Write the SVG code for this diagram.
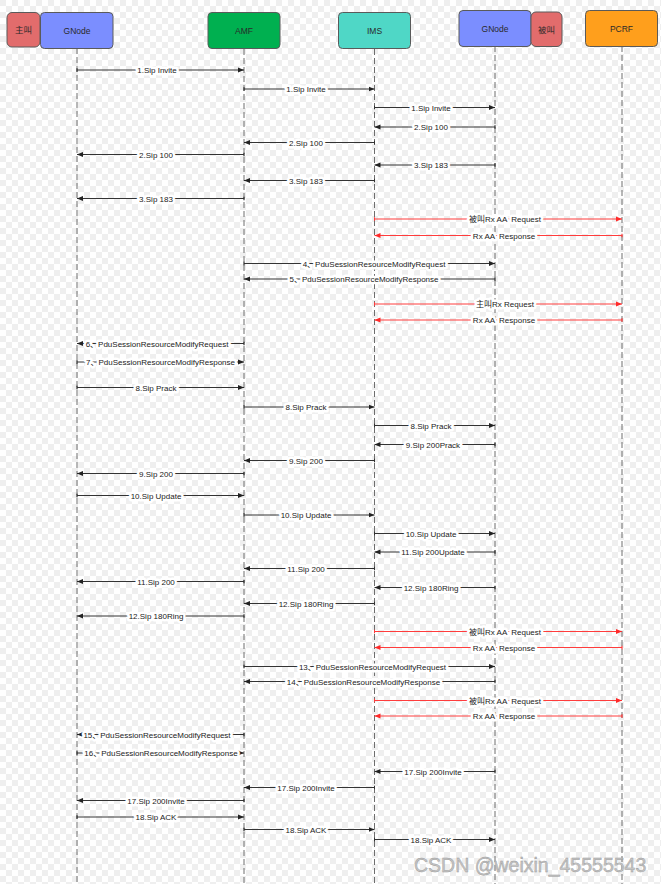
<svg xmlns="http://www.w3.org/2000/svg" width="661" height="884" viewBox="0 0 661 884">
<style>
.box{stroke:#5a5a5a;stroke-width:1}
.bt{font-family:"Liberation Sans","Noto Sans CJK SC",sans-serif;font-size:8.5px;fill:#2a2a2a;text-anchor:middle}
.life{stroke:#6e6e6e;stroke-width:1;stroke-dasharray:6 3;fill:none}
.m{stroke:#333;stroke-width:1;fill:none;marker-end:url(#ah);marker-start:url(#tk)}
.r{stroke:#ff3c3c;stroke-width:1;fill:none;marker-end:url(#ahr);marker-start:url(#tkr)}
.l{font-family:"Liberation Sans","Noto Sans CJK SC",sans-serif;font-size:8px;fill:#222;text-anchor:middle;paint-order:stroke;stroke:#fff;stroke-width:5px;stroke-linejoin:round}
.wm{font-family:"Liberation Sans",sans-serif;font-size:19.5px;fill:#c4c4c4;stroke:#9a9a9a;stroke-width:0.4px}
</style>
<defs>
<pattern id="chk" width="12" height="12" patternUnits="userSpaceOnUse">
<rect width="12" height="12" fill="#ffffff"/>
<rect width="6" height="6" fill="#efefef"/>
<rect x="6" y="6" width="6" height="6" fill="#efefef"/>
</pattern>
<marker id="ah" viewBox="0 0 10 10" refX="10" refY="5" markerWidth="6" markerHeight="6" markerUnits="userSpaceOnUse" orient="auto"><path d="M0,1 L10,5 L0,9 z" fill="#222"/></marker>
<marker id="ahr" viewBox="0 0 10 10" refX="10" refY="5" markerWidth="6" markerHeight="6" markerUnits="userSpaceOnUse" orient="auto"><path d="M0,1 L10,5 L0,9 z" fill="#ff2a2a"/></marker>
<marker id="tk" viewBox="0 0 2 6" refX="1" refY="3" markerWidth="1.2" markerHeight="6" markerUnits="userSpaceOnUse" orient="auto"><rect width="2" height="6" fill="#333"/></marker>
<marker id="tkr" viewBox="0 0 2 6" refX="1" refY="3" markerWidth="1.2" markerHeight="6" markerUnits="userSpaceOnUse" orient="auto"><rect width="2" height="6" fill="#ff3c3c"/></marker>
</defs>
<rect width="661" height="884" fill="url(#chk)"/>

<g id="caller">
<rect class="box" x="7" y="12.5" width="33" height="34.5" rx="5" fill="#e26c6c"/>
<text class="bt" x="23.5" y="33">主叫</text>
</g>
<g id="gnode1">
<line class="life" x1="77" y1="48" x2="77" y2="884"/>
<rect class="box" x="40.5" y="12.5" width="72.5" height="36" rx="4" fill="#7b8eff"/>
<text class="bt" x="77" y="33.5">GNode</text>
</g>
<g id="amf">
<line class="life" x1="244" y1="49" x2="244" y2="884"/>
<rect class="box" x="208" y="12.5" width="72" height="36" rx="4" fill="#00b050"/>
<text class="bt" x="244" y="33.5">AMF</text>
</g>
<g id="ims">
<line class="life" x1="374.5" y1="49" x2="374.5" y2="884"/>
<rect class="box" x="338.5" y="12.5" width="72" height="36" rx="4" fill="#4fd7c6"/>
<text class="bt" x="374.5" y="33.5">IMS</text>
</g>
<g id="gnode2">
<line class="life" x1="495" y1="46" x2="495" y2="884"/>
<rect class="box" x="459" y="10.5" width="72" height="36" rx="4" fill="#7b8eff"/>
<text class="bt" x="495" y="31.5">GNode</text>
</g>
<g id="callee">
<rect class="box" x="531" y="12" width="31" height="34.5" rx="5" fill="#e26c6c"/>
<text class="bt" x="546.5" y="32.5">被叫</text>
</g>
<g id="pcrf">
<line class="life" x1="622" y1="46" x2="622" y2="884"/>
<rect class="box" x="585.5" y="10.5" width="72" height="36" rx="4" fill="#ff9f1c"/>
<text class="bt" x="621.5" y="31.5">PCRF</text>
</g>

<g id="connectors">
<line class="m" x1="77" y1="70" x2="244" y2="70"/>
<line class="m" x1="244" y1="89" x2="374.5" y2="89"/>
<line class="m" x1="374.5" y1="107.5" x2="495" y2="107.5"/>
<line class="m" x1="495" y1="127" x2="374.5" y2="127"/>
<line class="m" x1="374.5" y1="142.5" x2="244" y2="142.5"/>
<line class="m" x1="244" y1="154.5" x2="77" y2="154.5"/>
<line class="m" x1="495" y1="165" x2="374.5" y2="165"/>
<line class="m" x1="374.5" y1="180.5" x2="244" y2="180.5"/>
<line class="m" x1="244" y1="198.5" x2="77" y2="198.5"/>
<line class="r" x1="374.5" y1="219" x2="622" y2="219"/>
<line class="r" x1="622" y1="235.5" x2="374.5" y2="235.5"/>
<line class="m" x1="244" y1="263.5" x2="495" y2="263.5"/>
<line class="m" x1="495" y1="279" x2="244" y2="279"/>
<line class="r" x1="374.5" y1="304" x2="622" y2="304"/>
<line class="r" x1="622" y1="320" x2="374.5" y2="320"/>
<line class="m" x1="244" y1="343.5" x2="77" y2="343.5"/>
<line class="m" x1="77" y1="362" x2="244" y2="362"/>
<line class="m" x1="77" y1="387.5" x2="244" y2="387.5"/>
<line class="m" x1="244" y1="407" x2="374.5" y2="407"/>
<line class="m" x1="374.5" y1="425.5" x2="495" y2="425.5"/>
<line class="m" x1="495" y1="444.5" x2="374.5" y2="444.5"/>
<line class="m" x1="374.5" y1="460.5" x2="244" y2="460.5"/>
<line class="m" x1="244" y1="473.5" x2="77" y2="473.5"/>
<line class="m" x1="77" y1="495.5" x2="244" y2="495.5"/>
<line class="m" x1="244" y1="515" x2="374.5" y2="515"/>
<line class="m" x1="374.5" y1="533.5" x2="495" y2="533.5"/>
<line class="m" x1="495" y1="552" x2="374.5" y2="552"/>
<line class="m" x1="374.5" y1="568.5" x2="244" y2="568.5"/>
<line class="m" x1="244" y1="581.5" x2="77" y2="581.5"/>
<line class="m" x1="495" y1="587.5" x2="374.5" y2="587.5"/>
<line class="m" x1="374.5" y1="603.5" x2="244" y2="603.5"/>
<line class="m" x1="244" y1="616" x2="77" y2="616"/>
<line class="r" x1="374.5" y1="631.5" x2="622" y2="631.5"/>
<line class="r" x1="622" y1="647.5" x2="374.5" y2="647.5"/>
<line class="m" x1="244" y1="666.5" x2="495" y2="666.5"/>
<line class="m" x1="495" y1="681.5" x2="244" y2="681.5"/>
<line class="r" x1="374.5" y1="700.5" x2="622" y2="700.5"/>
<line class="r" x1="622" y1="716" x2="374.5" y2="716"/>
<line class="m" x1="244" y1="734.5" x2="77" y2="734.5"/>
<line class="m" x1="77" y1="753" x2="244" y2="753"/>
<line class="m" x1="495" y1="771.5" x2="374.5" y2="771.5"/>
<line class="m" x1="374.5" y1="787.5" x2="244" y2="787.5"/>
<line class="m" x1="244" y1="800.5" x2="77" y2="800.5"/>
<line class="m" x1="77" y1="817" x2="244" y2="817"/>
<line class="m" x1="244" y1="829.5" x2="374.5" y2="829.5"/>
<line class="m" x1="374.5" y1="839.5" x2="495" y2="839.5"/>

<text class="l" x="157" y="73">1.Sip Invite</text>
<text class="l" x="306" y="92">1.Sip Invite</text>
<text class="l" x="431" y="110.5">1.Sip Invite</text>
<text class="l" x="431" y="130">2.Sip 100</text>
<text class="l" x="306" y="145.5">2.Sip 100</text>
<text class="l" x="156" y="157.5">2.Sip 100</text>
<text class="l" x="431" y="168">3.Sip 183</text>
<text class="l" x="306" y="183.5">3.Sip 183</text>
<text class="l" x="156" y="201.5">3.Sip 183</text>
<text class="l" x="505" y="222" xml:space="preserve">被叫Rx AA  Request</text>
<text class="l" x="504" y="238.5" xml:space="preserve">Rx AA  Response</text>
<text class="l" x="374" y="266.5">4、PduSessionResourceModifyRequest</text>
<text class="l" x="364" y="282">5、PduSessionResourceModifyResponse</text>
<text class="l" x="505" y="307">主叫Rx Request</text>
<text class="l" x="504" y="323" xml:space="preserve">Rx AA  Response</text>
<text class="l" x="157" y="346.5">6、PduSessionResourceModifyRequest</text>
<text class="l" x="160.5" y="365">7、PduSessionResourceModifyResponse</text>
<text class="l" x="156" y="390.5">8.Sip Prack</text>
<text class="l" x="306" y="410">8.Sip Prack</text>
<text class="l" x="431" y="428.5">8.Sip Prack</text>
<text class="l" x="433" y="447.5">9.Sip 200Prack</text>
<text class="l" x="306" y="463.5">9.Sip 200</text>
<text class="l" x="156" y="476.5">9.Sip 200</text>
<text class="l" x="156" y="498.5">10.Sip Update</text>
<text class="l" x="306" y="518">10.Sip Update</text>
<text class="l" x="431" y="536.5">10.Sip Update</text>
<text class="l" x="433" y="555">11.Sip 200Update</text>
<text class="l" x="306" y="571.5">11.Sip 200</text>
<text class="l" x="156" y="584.5">11.Sip 200</text>
<text class="l" x="431" y="590.5">12.Sip 180Ring</text>
<text class="l" x="306" y="606.5">12.Sip 180Ring</text>
<text class="l" x="156" y="619">12.Sip 180Ring</text>
<text class="l" x="505" y="634.5" xml:space="preserve">被叫Rx AA  Request</text>
<text class="l" x="504" y="650.5" xml:space="preserve">Rx AA  Response</text>
<text class="l" x="372.5" y="669.5">13、PduSessionResourceModifyRequest</text>
<text class="l" x="363.5" y="684.5">14、PduSessionResourceModifyResponse</text>
<text class="l" x="505" y="703.5" xml:space="preserve">被叫Rx AA  Request</text>
<text class="l" x="504" y="719" xml:space="preserve">Rx AA  Response</text>
<text class="l" x="157" y="737.5">15、PduSessionResourceModifyRequest</text>
<text class="l" x="161" y="756">16、PduSessionResourceModifyResponse</text>
<text class="l" x="433" y="774.5">17.Sip 200Invite</text>
<text class="l" x="306" y="790.5">17.Sip 200Invite</text>
<text class="l" x="156" y="803.5">17.Sip 200Invite</text>
<text class="l" x="156" y="820">18.Sip ACK</text>
<text class="l" x="306" y="832.5">18.Sip ACK</text>
<text class="l" x="431" y="842.5">18.Sip ACK</text>
</g>
<text class="wm" x="414" y="872">CSDN @weixin_45555543</text>
</svg>
